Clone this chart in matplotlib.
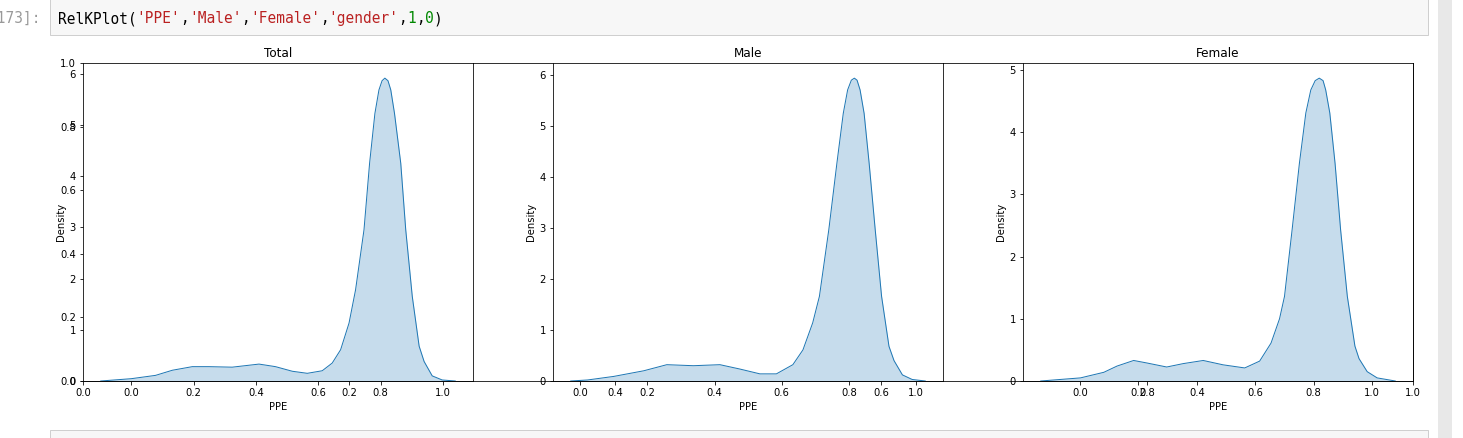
import matplotlib
matplotlib.use('Agg')
import matplotlib.pyplot as plt
from matplotlib.patches import Rectangle

# KDE curves of PPE (x = PPE, y = density)
total_x = [-0.098, 0.0, 0.078, 0.132, 0.196, 0.249, 0.324, 0.41, 0.463, 0.517, 0.565,
           0.613, 0.645, 0.672, 0.699, 0.72, 0.747, 0.765, 0.782, 0.795, 0.805, 0.814,
           0.824, 0.833, 0.845, 0.865, 0.881, 0.902, 0.924, 0.94, 0.966, 0.998, 1.04]
total_y = [0.0, 0.045, 0.11, 0.21, 0.28, 0.28, 0.27, 0.33, 0.28, 0.19, 0.15,
           0.20, 0.35, 0.61, 1.13, 1.78, 2.95, 4.25, 5.22, 5.68, 5.86, 5.91,
           5.86, 5.68, 5.22, 4.25, 2.95, 1.65, 0.68, 0.38, 0.10, 0.02, 0.0]

male_x = [-0.028, 0.022, 0.10, 0.189, 0.258, 0.337, 0.416, 0.475, 0.535, 0.584, 0.633,
          0.663, 0.692, 0.712, 0.740, 0.764, 0.783, 0.796, 0.807, 0.816, 0.824, 0.833,
          0.845, 0.86, 0.878, 0.897, 0.919, 0.934, 0.959, 0.988, 1.027]
male_y = [0.0, 0.02, 0.09, 0.20, 0.32, 0.30, 0.32, 0.235, 0.14, 0.14, 0.32,
          0.61, 1.14, 1.66, 2.97, 4.27, 5.25, 5.71, 5.90, 5.94, 5.90, 5.71,
          5.25, 4.27, 2.97, 1.66, 0.68, 0.40, 0.12, 0.03, 0.0]

female_x = [-0.134, 0.002, 0.082, 0.127, 0.184, 0.229, 0.297, 0.354, 0.422, 0.49, 0.564,
            0.615, 0.654, 0.683, 0.700, 0.726, 0.751, 0.773, 0.790, 0.805, 0.819, 0.832,
            0.841, 0.855, 0.873, 0.892, 0.915, 0.941, 0.955, 0.983, 1.017, 1.079]
female_y = [0.0, 0.05, 0.14, 0.24, 0.33, 0.29, 0.225, 0.28, 0.33, 0.26, 0.21,
            0.32, 0.61, 1.0, 1.36, 2.43, 3.50, 4.31, 4.68, 4.83, 4.87, 4.83,
            4.68, 4.31, 3.50, 2.43, 1.36, 0.56, 0.36, 0.15, 0.05, 0.0]

titles = ['Total', 'Male', 'Female']
code_parts = [("RelKPlot(", 'black'), ("'PPE'", '#ba2121'), (",", 'black'),
              ("'Male'", '#ba2121'), (",", 'black'), ("'Female'", '#ba2121'),
              (",", 'black'), ("'gender'", '#ba2121'), (",", 'black'),
              ("1", '#008800'), (",", 'black'), ("0", '#008800'), (")", 'black')]

W, H = 1463, 438
fig = plt.figure(figsize=(W / 72, H / 72), dpi=72)


def box(x0, y0, x1, y1):
    # pixel box (top-left origin) -> figure fraction rect
    return [x0 / W, 1 - y1 / H, (x1 - x0) / W, (y1 - y0) / H]


# notebook chrome: code cell, prompt, next cell, scrollbar
fig.patches.append(Rectangle((50 / W, 1 - 35 / H), 1378 / W, 40 / H, transform=fig.transFigure,
                             facecolor='#f7f7f7', edgecolor='#cfcfcf', lw=1))
fig.patches.append(Rectangle((50 / W, -0.05), 1378 / W, 0.05 + 8 / H, transform=fig.transFigure,
                             facecolor='#f7f7f7', edgecolor='#cfcfcf', lw=1))
fig.patches.append(Rectangle((1438 / W, 0), 14 / W, 1, transform=fig.transFigure,
                             facecolor='#e8e8e8', edgecolor='none'))
fig.text(41 / W, 1 - 23 / H, '[173]:', ha='right', va='baseline', family='DejaVu Sans Mono',
         fontsize=14.5, color='#999999')
cw = 0.6021 * 14.5
pos = 0
for part, col in code_parts:
    fig.text((58 + pos * cw) / W, 1 - 23 / H, part, ha='left', va='baseline',
             family='DejaVu Sans Mono', fontsize=14.5, color=col)
    pos += len(part)

# the stray background axes underneath the three subplots
bg = fig.add_axes(box(83, 63, 1413, 381))

lefts = [83, 553, 1023]
curves = [(total_x, total_y), (male_x, male_y), (female_x, female_y)]
for left, title, (xs, ys) in zip(lefts, titles, curves):
    ax = fig.add_axes(box(left, 63, left + 390, 381))
    ax.fill_between(xs, ys, color='#1f77b4', alpha=0.25, lw=0)
    ax.plot(xs, ys, color='#1f77b4', lw=1)
    ax.set_ylim(0, max(ys) * 1.05)
    ax.set_title(title)
    ax.set_xlabel('PPE')
    ax.set_ylabel('Density')

plt.savefig('out.png', dpi=72)
